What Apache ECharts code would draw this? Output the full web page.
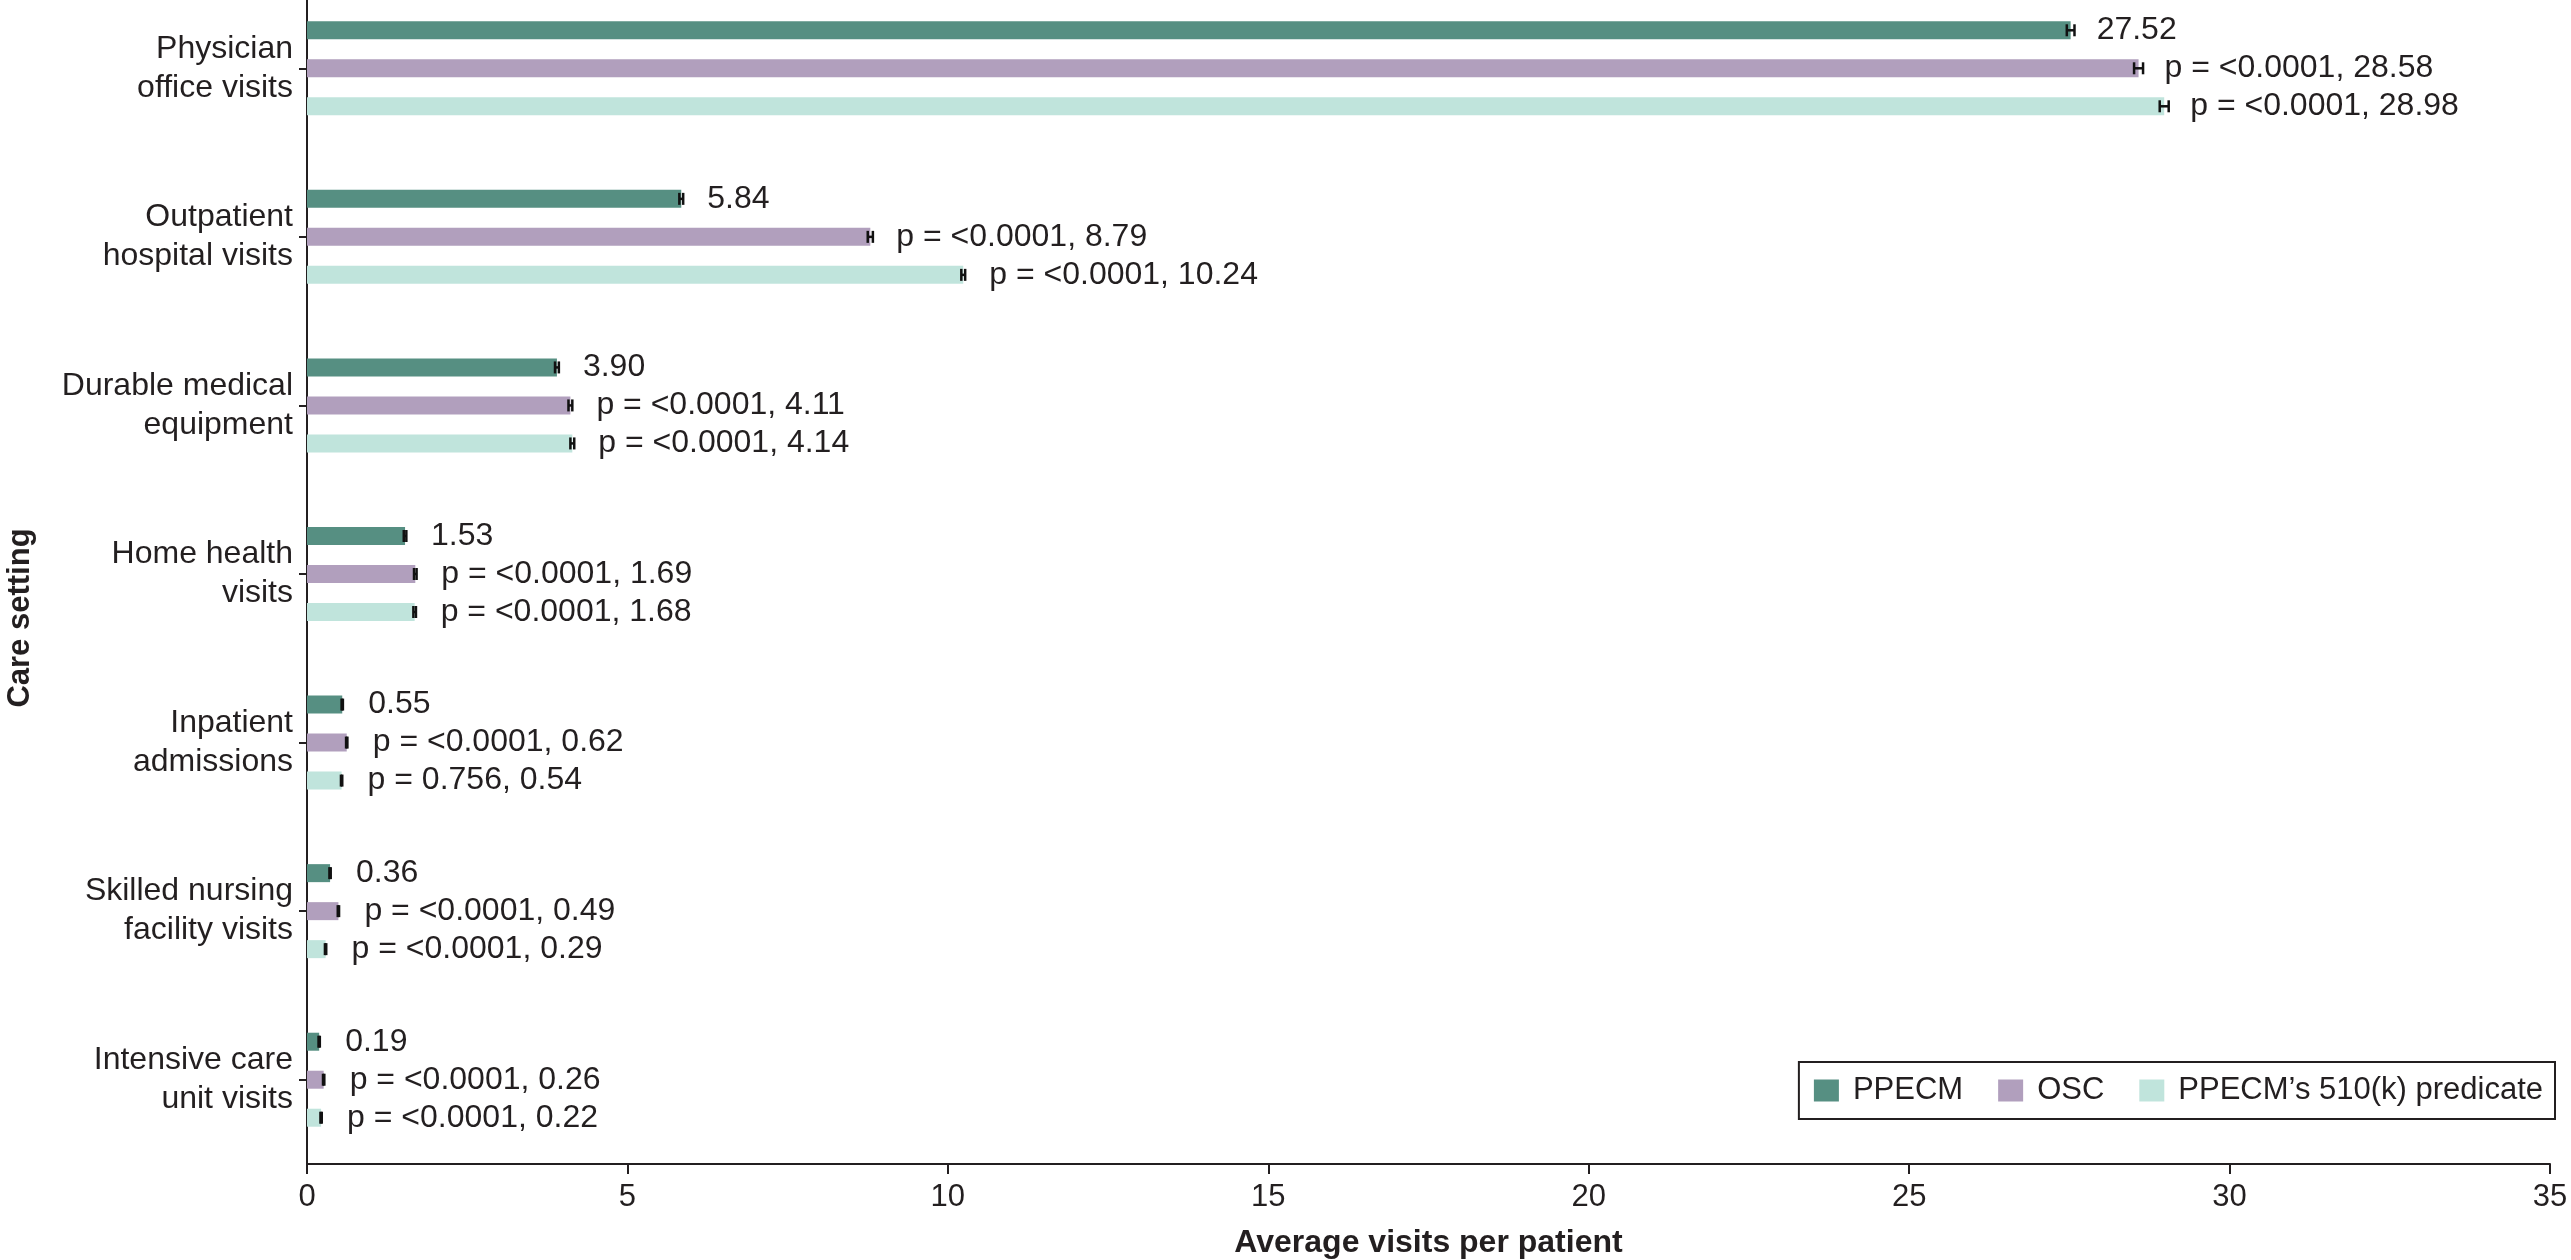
<!DOCTYPE html>
<html>
<head>
<meta charset="utf-8">
<script src="https://cdn.jsdelivr.net/npm/echarts@6/dist/echarts.min.js"></script>
<style>
  html, body { margin: 0; padding: 0; background: #fff; overflow: hidden; }
  /* the plot area starts a bit above the page edge, as in the source figure */
  #chart { position: absolute; left: 0; top: -16px; width: 2571px; height: 1276px; }
</style>
</head>
<body>
<div id="chart"></div>
<script>
const categories = ['Physician\noffice visits', 'Outpatient\nhospital visits', 'Durable medical\nequipment',
  'Home health\nvisits', 'Inpatient\nadmissions', 'Skilled nursing\nfacility visits', 'Intensive care\nunit visits']
const seriesNames = ['PPECM', 'OSC', 'PPECM\u2019s 510(k) predicate']
const ppecm = [27.52, 5.84, 3.90, 1.53, 0.55, 0.36, 0.19]
const osc = [28.58, 8.79, 4.11, 1.69, 0.62, 0.49, 0.26]
const predicate = [28.98, 10.24, 4.14, 1.68, 0.54, 0.29, 0.22]
const ppecmErr = [0.06, 0.03, 0.03, 0.02, 0.01, 0.01, 0.01]
const oscErr = [0.07, 0.04, 0.03, 0.02, 0.01, 0.01, 0.01]
const predicateErr = [0.07, 0.03, 0.03, 0.02, 0.01, 0.01, 0.01]
const oscP = ['<0.0001', '<0.0001', '<0.0001', '<0.0001', '<0.0001', '<0.0001', '<0.0001']
const predicateP = ['<0.0001', '<0.0001', '<0.0001', '<0.0001', '0.756', '<0.0001', '<0.0001']
const xTicks = [0, 5, 10, 15, 20, 25, 30, 35]

const colors = ['#568f82', '#b19fbd', '#c0e4dc']
const fontFamily = '"Liberation Sans", Arial, sans-serif'
const textColor = '#231f20'
const barW = 18
const barStep = 38

const values = [ppecm, osc, predicate]
const errs = [ppecmErr, oscErr, predicateErr]
const pTexts = [null, oscP, predicateP]

const chart = echarts.init(document.getElementById('chart'))

function errorSeries(k) {
  return {
    type: 'custom',
    name: seriesNames[k] + ' err',
    silent: true,
    z: 5,
    data: values[k].map((v, i) => [v - errs[k][i], v + errs[k][i], i]),
    renderItem(params, api) {
      const off = (k - 1) * barStep
      const lo = api.coord([api.value(0), api.value(2)])
      const hi = api.coord([api.value(1), api.value(2)])
      const y = lo[1] + off
      const h = 6
      const style = { stroke: '#111', lineWidth: 2.5 }
      return {
        type: 'group',
        children: [
          { type: 'line', shape: { x1: lo[0], y1: y, x2: hi[0], y2: y }, style },
          { type: 'line', shape: { x1: lo[0], y1: y - h, x2: lo[0], y2: y + h }, style },
          { type: 'line', shape: { x1: hi[0], y1: y - h, x2: hi[0], y2: y + h }, style }
        ]
      }
    }
  }
}

function barSeries(k) {
  return {
    type: 'bar',
    name: seriesNames[k],
    data: values[k],
    barWidth: barW,
    barGap: ((barStep - barW) / barW * 100) + '%',
    itemStyle: { color: colors[k] },
    label: {
      show: true,
      position: 'right',
      distance: 26,
      fontFamily,
      fontSize: 32,
      color: textColor,
      formatter: p => k === 0 ? p.value.toFixed(2) : 'p = ' + pTexts[k][p.dataIndex] + ', ' + p.value.toFixed(2)
    }
  }
}

chart.setOption({
  animation: false,
  textStyle: { fontFamily },
  grid: { left: 307, right: 21, top: 0, bottom: 96, containLabel: false, outerBoundsMode: 'none' },
  legend: {
    data: seriesNames,
    right: 16,
    top: 1078,
    orient: 'horizontal',
    borderColor: '#231f20',
    borderWidth: 2,
    padding: [13, 12, 13, 15],
    itemWidth: 25,
    itemHeight: 22,
    itemGap: 35,
    icon: 'rect',
    textStyle: { fontSize: 31, color: textColor, fontFamily, padding: [0, 0, 0, 9] }
  },
  graphic: [{
    type: 'text',
    x: 20,
    y: 634,
    rotation: Math.PI / 2,
    style: {
      text: 'Care setting',
      font: 'bold 31px "Liberation Sans", Arial, sans-serif',
      fill: textColor,
      align: 'center',
      verticalAlign: 'middle'
    }
  }],
  xAxis: {
    type: 'value',
    min: 0,
    max: 35,
    interval: 5,
    name: 'Average visits per patient',
    nameLocation: 'middle',
    nameGap: 63,
    nameTextStyle: { fontSize: 32, fontWeight: 'bold', color: textColor },
    axisLine: { show: true, lineStyle: { color: '#231f20', width: 2 } },
    axisTick: { show: true, length: 10, lineStyle: { color: '#231f20', width: 2 } },
    axisLabel: { fontSize: 31, color: textColor, margin: 18, formatter: v => xTicks.includes(v) ? String(v) : '' },
    splitLine: { show: false }
  },
  yAxis: {
    type: 'category',
    inverse: true,
    data: categories,
    axisLine: { show: true, lineStyle: { color: '#231f20', width: 2 } },
    axisTick: { show: true, length: 8, alignWithLabel: true, lineStyle: { color: '#231f20', width: 2 } },
    axisLabel: { fontSize: 32, lineHeight: 39, color: textColor, margin: 14, align: 'right' }
  },
  series: [barSeries(0), barSeries(1), barSeries(2), errorSeries(0), errorSeries(1), errorSeries(2)]
})
</script>
</body>
</html>
